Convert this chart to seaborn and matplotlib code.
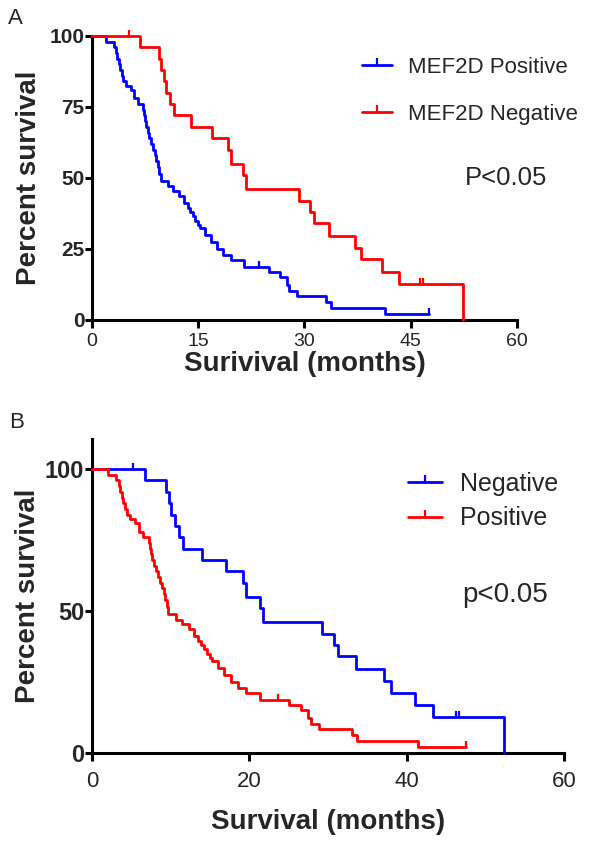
import matplotlib
matplotlib.use("Agg")
import matplotlib.pyplot as plt
from matplotlib.lines import Line2D
import seaborn as sns

# -----------------------------
# Data
# -----------------------------

# MEF2D negative group: time (months) and survival (%) after each drop
neg_time = [0, 6.8, 9.4, 9.8, 10.1, 10.5, 11.0, 11.6, 14.0, 17.0, 19.2, 19.6,
            21.3, 21.7, 29.2, 30.8, 31.3, 33.5, 37.1, 38.0, 41.0, 43.4, 52.4]
neg_surv = [100, 96, 92, 88, 84, 80, 76, 72, 68, 64, 60, 55,
            51, 46, 42, 38, 34, 29.5, 25.5, 21.3, 17, 12.7, 0]
neg_cens_time = [5.2, 46.3, 46.7]
neg_cens_surv = [100, 12.7, 12.7]

# MEF2D positive group
pos_time = [0, 2.0, 3.1, 3.4, 3.6, 3.8, 4.0, 4.2, 4.4, 4.8,
            5.5, 6.0, 6.5, 7.2, 7.4, 7.5, 7.6, 7.9, 8.1, 8.4,
            8.6, 8.9, 9.1, 9.3, 9.5, 9.7, 10.7, 11.4, 12.3, 13.0,
            13.5, 13.9, 14.2, 14.6, 15.0, 15.3, 16.0, 16.8, 17.7, 18.5,
            19.6, 21.4, 25.0, 26.6, 27.5, 27.8, 28.9, 33.0, 33.7, 41.4,
            47.6]
pos_surv = [100, 98, 96, 94, 92, 90, 88, 86, 84, 82.5,
            81, 78, 76, 74, 72, 70, 68, 66, 64, 62,
            60, 58, 56, 54, 51.5, 49, 47, 45.5, 43.8, 41.3,
            39.5, 38, 36.5, 35, 33.6, 32.3, 29.8, 27.5, 25, 22.8,
            21, 18.7, 17, 15.2, 12.3, 10.3, 8.4, 6.3, 4.2, 2.1,
            2.1]
pos_cens_time = [23.6, 47.6]
pos_cens_surv = [18.7, 2.1]

ticks_a_x = [0, 15, 30, 45, 60]
ticks_a_y = [0, 25, 50, 75, 100]
ticks_b_x = [0, 20, 40, 60]
ticks_b_y = [0, 50, 100]

BLUE = "#0000ff"
RED = "#ff0000"

# -----------------------------
# Style
# -----------------------------

sns.set_theme(style="ticks")
plt.rcParams["font.family"] = ["Liberation Sans", "DejaVu Sans"]
plt.rcParams["axes.linewidth"] = 2.2

fig = plt.figure(figsize=(6, 8.42), dpi=100)
ax_a = fig.add_axes([0.1533, 0.6200, 0.7083, 0.3373])
ax_b = fig.add_axes([0.1533, 0.1057, 0.7867, 0.3729])


def draw_curve(ax, t, s, ct, cs, color):
    sns.lineplot(x=t, y=s, ax=ax, color=color, linewidth=2.0,
                 drawstyle="steps-post", estimator=None, sort=False,
                 clip_on=False, zorder=3)
    sns.scatterplot(x=ct, y=cs, ax=ax, color=color, marker=2, s=20,
                    linewidth=1.6, clip_on=False, zorder=3)


def style_axes(ax, xt, yt, ymax, xlabel, xpad, xsize, ysize, xlabpad, ylabpad):
    ax.set_xlim(0, 60)
    ax.set_ylim(0, ymax)
    ax.set_xticks(xt)
    ax.set_yticks(yt)
    ax.tick_params(axis="both", width=2.2, color="black")
    ax.tick_params(axis="x", length=5.5, pad=xpad, labelsize=xsize)
    ax.tick_params(axis="y", length=5, pad=0.5, labelsize=ysize)
    for lab in ax.get_yticklabels():
        lab.set_fontweight("bold")
    ax.set_xlabel(xlabel, fontsize=20, fontweight="bold", labelpad=xlabpad)
    ax.set_ylabel("Percent survival", fontsize=20, fontweight="bold",
                  labelpad=ylabpad)
    for sp in ["left", "bottom"]:
        ax.spines[sp].set_color("black")
    sns.despine(ax=ax)


def censor_handle(color):
    return Line2D([], [], color=color, lw=2.0, marker=2, markersize=5, mew=1.6)


# -----------------------------
# Panel A
# -----------------------------

draw_curve(ax_a, pos_time, pos_surv, pos_cens_time, pos_cens_surv, BLUE)
draw_curve(ax_a, neg_time, neg_surv, neg_cens_time, neg_cens_surv, RED)
style_axes(ax_a, ticks_a_x, ticks_a_y, 100, "Surivival (months)",
           4, 14, 15, 0.5, 5)

ax_a.legend([censor_handle(BLUE), censor_handle(RED)],
            ["MEF2D Positive", "MEF2D Negative"], frameon=False,
            loc="upper left", bbox_to_anchor=(0.635, 0.926), fontsize=16,
            handlelength=1.35, handletextpad=0.72, labelspacing=1.18,
            borderpad=0, borderaxespad=0, numpoints=1)
ax_a.text(52.7, 50, "P<0.05", fontsize=18.5, va="center", ha="left")

# -----------------------------
# Panel B
# -----------------------------

draw_curve(ax_b, neg_time, neg_surv, neg_cens_time, neg_cens_surv, BLUE)
draw_curve(ax_b, pos_time, pos_surv, pos_cens_time, pos_cens_surv, RED)
style_axes(ax_b, ticks_b_x, ticks_b_y, 110.6, "Survival (months)",
           7.5, 16, 17, 12, 3)

ax_b.legend([censor_handle(BLUE), censor_handle(RED)],
            ["Negative", "Positive"], frameon=False,
            loc="upper left", bbox_to_anchor=(0.669, 0.895), fontsize=18,
            handlelength=1.36, handletextpad=0.72, labelspacing=0.42,
            borderpad=0, borderaxespad=0, numpoints=1)
ax_b.text(47.0, 55.7, "p<0.05", fontsize=20, va="center", ha="left")

fig.text(8 / 600, 1 - 19 / 842, "A", fontsize=16, va="center", ha="left")
fig.text(9 / 600, 1 - 423 / 842, "B", fontsize=16, va="center", ha="left")

fig.savefig("out.png", dpi=100)
